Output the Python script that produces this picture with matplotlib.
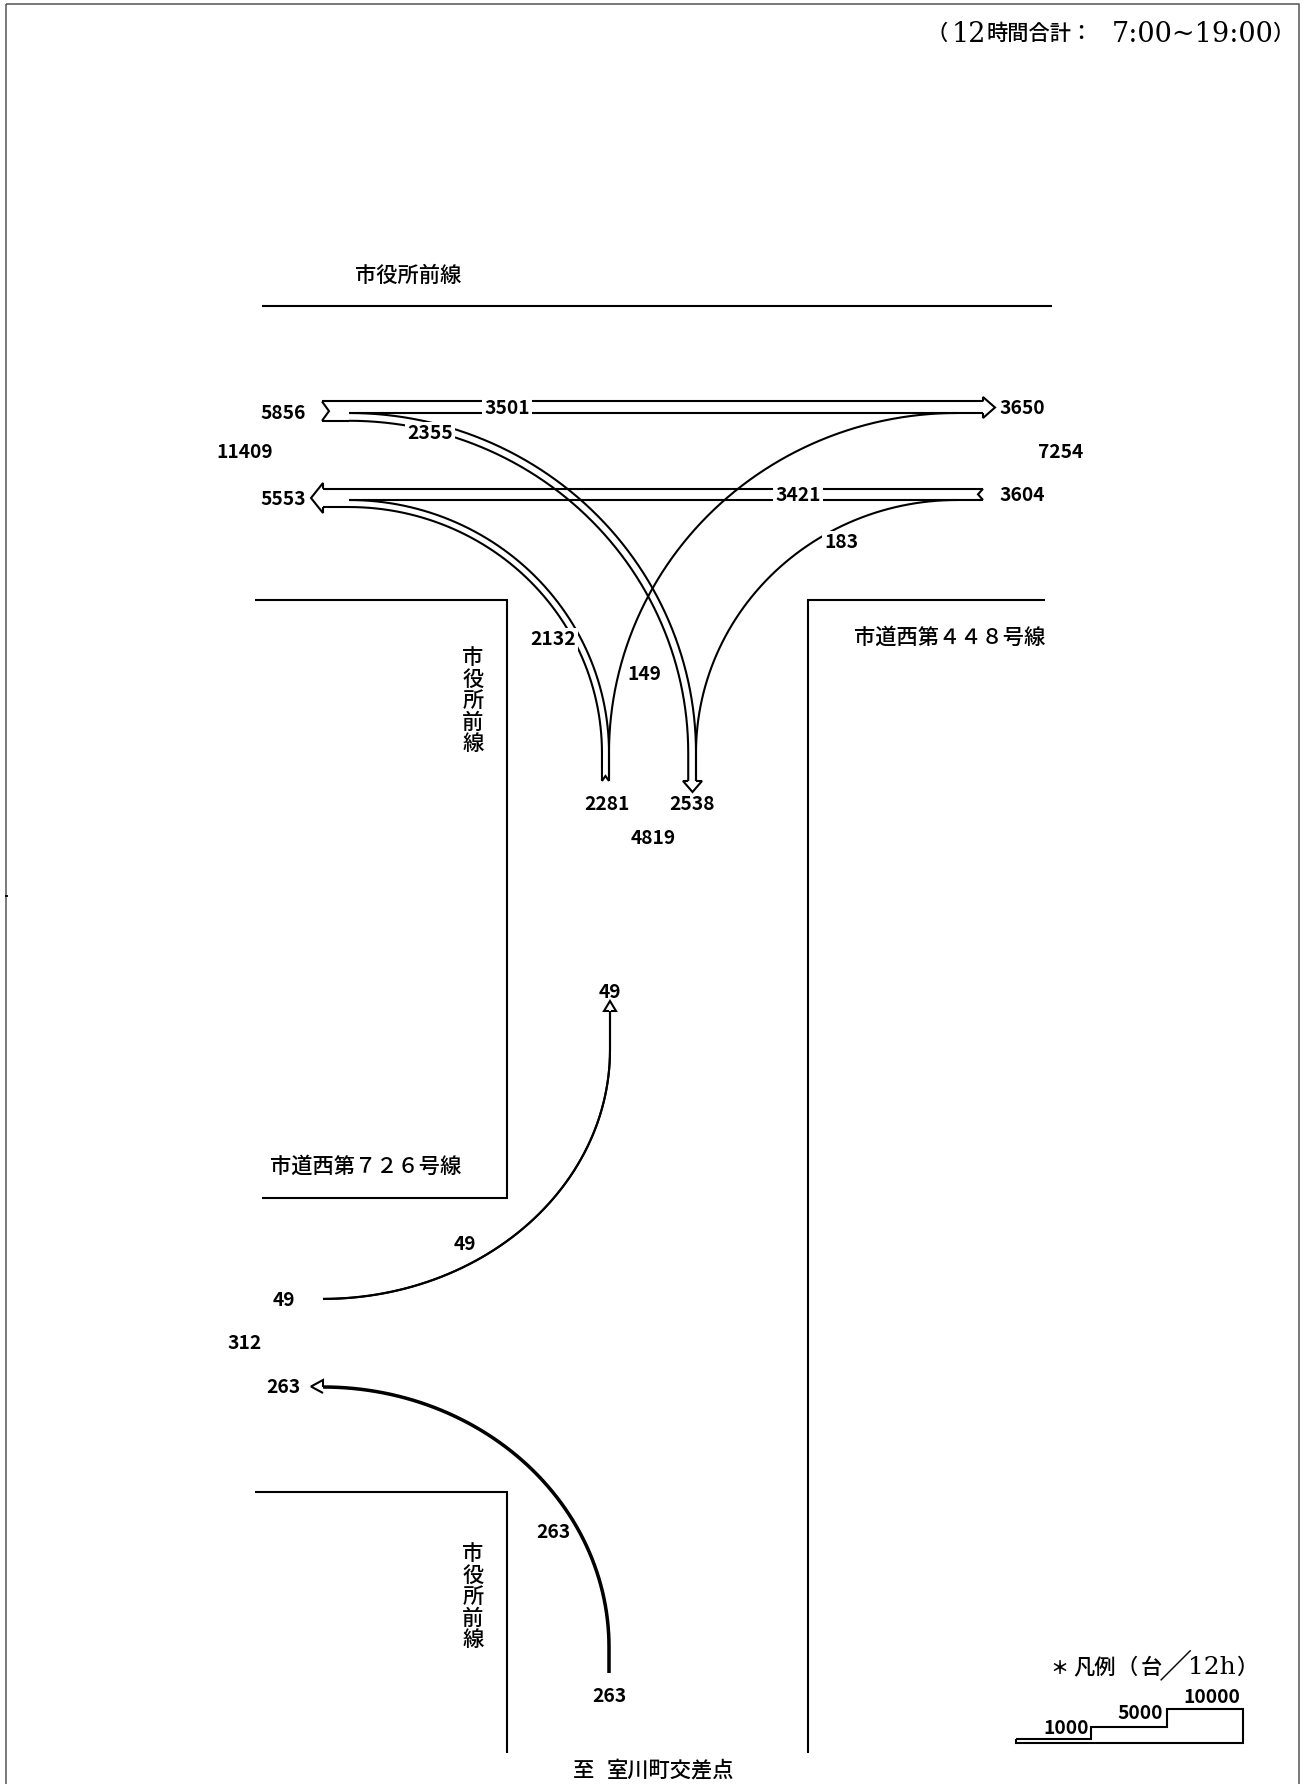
import numpy as np
import matplotlib
matplotlib.use('Agg')
import matplotlib.pyplot as plt
from matplotlib.patches import Polygon, Rectangle

plt.rcParams['font.family'] = ['Noto Sans CJK JP', 'DejaVu Sans']

# 交通量 (台/12h)
approach_in = [5856, 3604, 2281]
approach_out = [5553, 3650, 2538]
approach_total = [11409, 7254, 4819]
through_ew = 3501
through_we = 3421
turn_w_s = 2355
turn_s_w = 2132
turn_s_e = 149
turn_e_s = 183
lower_in = 49
lower_out = 263
lower_total = 312
legend_values = [1000, 5000, 10000]

PX_PER_CAR = 0.0033  # 帯の幅
LW = 1.5

fig = plt.figure(figsize=(13.06, 17.84), dpi=100)
ax = fig.add_axes([0, 0, 1, 1])
ax.set_xlim(0, 1306)
ax.set_ylim(1784, 0)
ax.axis('off')


def line(xs, ys, lw=LW, z=2):
    ax.plot(xs, ys, color='black', lw=lw, solid_capstyle='butt', solid_joinstyle='miter', zorder=z)


def quarter(x0, y0, x1, y1, n=60):
    # (x0,y0) で水平, (x1,y1) で垂直に接する四分楕円
    t = np.linspace(0, np.pi / 2, n)
    return x1 + (x0 - x1) * (1 - np.sin(t)), y0 + (y1 - y0) * (1 - np.cos(t))


def turn(x_start, y_start, x_mid, y_mid, x_end, y_end, lw=LW):
    xs, ys = quarter(x_start, y_start, x_mid, y_mid)
    line(np.r_[xs, x_mid], np.r_[ys, y_end], lw=lw)


def num(x, y, value, gap=False):
    kw = dict(bbox=dict(fc='white', ec='none', pad=1.5)) if gap else {}
    ax.text(x, y + 1.5, str(value), ha='center', va='center', fontsize=13.8, fontweight='bold',
            zorder=5, **kw)


def jp(x, y, s, size=15.3, weight='medium'):
    ax.text(x, y + 2, s, ha='center', va='center', fontsize=size, fontweight=weight, zorder=5)


def head(pts):
    ax.add_patch(Polygon(pts, closed=False, fc='white', ec='black', lw=LW, zorder=3, joinstyle='miter'))


# 枠
ax.add_patch(Rectangle((6.3, 4), 1293, 1790, fc='none', ec='#555555', lw=1.1, clip_on=False))
line([4.5, 8], [896, 896], lw=1.3)

# 道路
line([262, 1052], [306, 306])
line([255, 507, 507, 262], [600, 600, 1198, 1198])
line([1045, 808, 808], [600, 600, 1753])
line([255, 507, 507], [1492, 1492, 1753])

# 上の交差点 横断
y_split1 = 413
y_top1 = y_split1 - through_ew * PX_PER_CAR
y_low1 = y_split1 + turn_w_s * PX_PER_CAR
y_split2 = 500
y_top2 = y_split2 - through_we * PX_PER_CAR
y_low2 = y_split2 + turn_s_w * PX_PER_CAR

line([322, 985], [y_top1, y_top1])
line([349, 985], [y_split1, y_split1])
line([322, 329, 322], [y_top1, (y_top1 + y_low1) / 2, y_low1])
line([322, 349], [y_low1, y_low1])
head([(983, y_top1), (983, 397), (995, (397 + 418) / 2), (983, 418), (983, y_split1)])

line([322, 983], [y_top2, y_top2])
line([349, 983], [y_split2, y_split2])
line([983, 978, 983], [y_top2, (y_top2 + y_split2) / 2, y_split2])
line([322, 349], [y_low2, y_low2])
head([(323, y_top2), (323, 483), (311, 498), (323, 513), (323, y_low2)])

# 右左折
x_r1 = 696
x_l1 = x_r1 - turn_w_s * PX_PER_CAR
x_r2 = 609
x_l2 = x_r2 - turn_s_w * PX_PER_CAR
y_curve_end = 753

turn(349, y_split1, x_r1, y_curve_end, x_r1, 782)
turn(349, y_low1, x_l1, y_curve_end, x_l1, 782)
turn(349, y_split2, x_r2, y_curve_end, x_r2, 781)
turn(349, y_low2, x_l2, y_curve_end, x_l2, 781)
turn(957, y_split1, x_r2, y_curve_end, x_r2, 781)
turn(957, y_split2, x_r1, y_curve_end, x_r1, 782)
line([x_l2, (x_l2 + x_r2) / 2, x_r2], [781, 776, 781])
head([(x_l1, 781), (683, 781), ((683 + 702) / 2, 792), (702, 781), (x_r1, 781)])

# 下の交差点
x_49 = 610
turn(323, 1299, x_49, 1050, x_49, 1011)
turn(323, 1299 - lower_in * PX_PER_CAR, x_49, 1050, x_49, 1011)
head([(x_49 - 1, 1011), (x_49 - 6, 1011), (x_49, 1001), (x_49 + 6, 1011), (x_49 + 1, 1011)])

x_263 = 609
y_263 = 1387
w = lower_out * PX_PER_CAR
turn(323, y_263 - w / 2, x_263 + w / 2, 1647, x_263 + w / 2, 1673, lw=1.9)
turn(323, y_263 + w / 2, x_263 - w / 2, 1647, x_263 - w / 2, 1673, lw=1.9)
head([(323, y_263), (323, 1380), (311, y_263 - 0.5), (323, 1393), (323, y_263)])

# 数字
num(283, 412, approach_in[0])
num(245, 451, approach_total[0])
num(283, 498, approach_out[0])
num(507, 407, through_ew, gap=True)
num(430, 432, turn_w_s, gap=True)
num(1022, 407, approach_out[1])
num(1061, 451, approach_total[1])
num(798, 494, through_we, gap=True)
num(1022, 494, approach_in[1])
num(841, 541, turn_e_s, gap=True)
num(553, 638, turn_s_w, gap=True)
num(644, 673, turn_s_e)
num(607, 803, approach_in[2])
num(692, 803, approach_out[2])
num(653, 837, approach_total[2])
num(610, 991, lower_in)
num(465, 1243, lower_in)
num(284, 1299, lower_in)
num(245, 1342, lower_total)
num(283, 1386, lower_out)
num(553, 1531, lower_out)
num(609, 1695, lower_out)

# 路線名
jp(408, 274, '市役所前線')
jp(950, 636, '市道西第４４８号線')
jp(366, 1165, '市道西第７２６号線')
jp(584, 1769, '至')
jp(670, 1769, '室川町交差点')
for y_first in [656, 1552]:
    for i, ch in enumerate('市役所前線'):
        jp(473, y_first + i * 21.5, ch)

# タイトル
jp(937, 32, '（')
ax.text(952, 34, '12', ha='left', va='center', fontsize=19.5, family='DejaVu Serif')
jp(1040, 32, '時間合計：')
ax.text(1112, 34, '7:00~19:00', ha='left', va='center', fontsize=19.5, family='DejaVu Serif')
jp(1283, 32, '）')

# 凡例
jp(1059, 1666, '＊', size=13, weight='bold')
jp(1095, 1666, '凡例')
jp(1127, 1666, '（')
jp(1151, 1666, '台')
jp(1176, 1667, '／', size=24, weight='normal')
ax.text(1188, 1668, '12h', ha='left', va='center', fontsize=18, family='DejaVu Serif')
jp(1247, 1666, '）')
line([1016, 1091, 1091, 1167, 1167, 1243, 1243, 1016, 1016],
     [1739, 1739, 1727, 1727, 1709, 1709, 1743, 1743, 1739])
num(1066, 1727, legend_values[0])
num(1140, 1712, legend_values[1])
num(1212, 1696, legend_values[2])

fig.savefig('out.png', dpi=100, facecolor='white')
